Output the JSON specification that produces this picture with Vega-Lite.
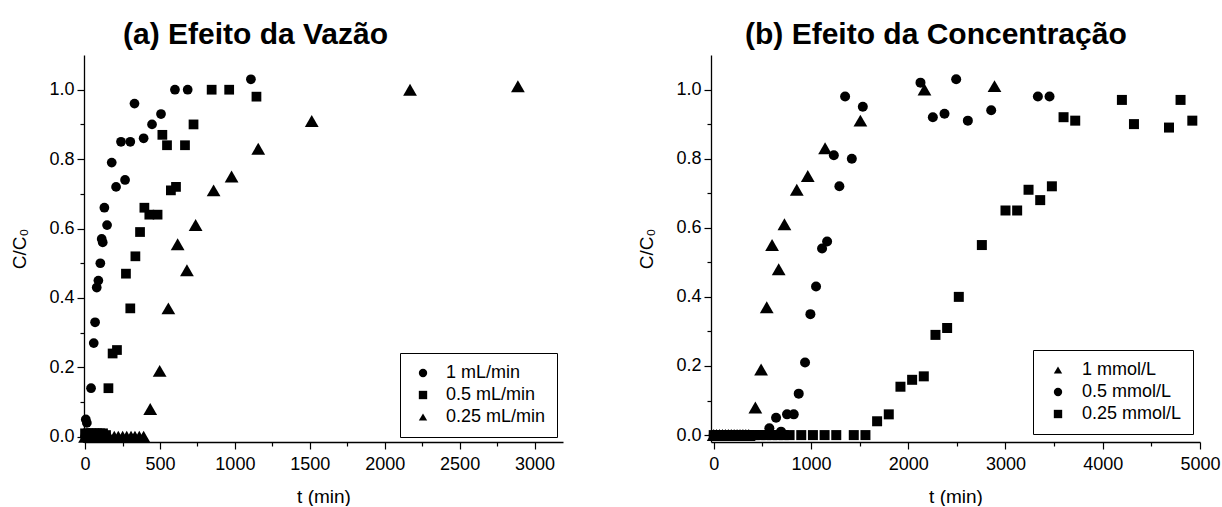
{
  "$schema": "https://vega.github.io/schema/vega-lite/v6.json",
  "padding": {"left": 10, "top": 20, "right": 0, "bottom": 0},
  "spacing": 74,
  "config": {
    "view": {"stroke": null},
    "font": "Liberation Sans",
    "axis": {
      "grid": false,
      "labelFlush": false,
      "domainColor": "black",
      "domainWidth": 1.3,
      "tickColor": "black",
      "tickWidth": 1.2,
      "labelColor": "black",
      "labelFont": "Liberation Sans",
      "labelFontSize": 18,
      "titleColor": "black",
      "titleFont": "Liberation Sans",
      "titleFontSize": 19,
      "titleFontWeight": "normal"
    },
    "title": {"font": "Liberation Sans", "fontSize": 30, "fontWeight": "bold", "color": "black", "anchor": "start", "frame": "group", "offset": 5}
  },
  "datasets": {
    "a": [
      {"series": "1 mL/min", "t": 0, "c": 0.0},
      {"series": "1 mL/min", "t": 5, "c": 0.05},
      {"series": "1 mL/min", "t": 12, "c": 0.04},
      {"series": "1 mL/min", "t": 20, "c": 0.01},
      {"series": "1 mL/min", "t": 40, "c": 0.14},
      {"series": "1 mL/min", "t": 58, "c": 0.27},
      {"series": "1 mL/min", "t": 67, "c": 0.33},
      {"series": "1 mL/min", "t": 78, "c": 0.43},
      {"series": "1 mL/min", "t": 89, "c": 0.45},
      {"series": "1 mL/min", "t": 102, "c": 0.5},
      {"series": "1 mL/min", "t": 111, "c": 0.57},
      {"series": "1 mL/min", "t": 118, "c": 0.56},
      {"series": "1 mL/min", "t": 129, "c": 0.66},
      {"series": "1 mL/min", "t": 147, "c": 0.61},
      {"series": "1 mL/min", "t": 178, "c": 0.79},
      {"series": "1 mL/min", "t": 207, "c": 0.72},
      {"series": "1 mL/min", "t": 240, "c": 0.85},
      {"series": "1 mL/min", "t": 267, "c": 0.74},
      {"series": "1 mL/min", "t": 302, "c": 0.85},
      {"series": "1 mL/min", "t": 330, "c": 0.96},
      {"series": "1 mL/min", "t": 391, "c": 0.86},
      {"series": "1 mL/min", "t": 447, "c": 0.9},
      {"series": "1 mL/min", "t": 507, "c": 0.93},
      {"series": "1 mL/min", "t": 600, "c": 1.0},
      {"series": "1 mL/min", "t": 685, "c": 1.0},
      {"series": "1 mL/min", "t": 1107, "c": 1.03},
      {"series": "0.5 mL/min", "t": 0, "c": 0.01},
      {"series": "0.5 mL/min", "t": 20, "c": 0.01},
      {"series": "0.5 mL/min", "t": 40, "c": 0.01},
      {"series": "0.5 mL/min", "t": 60, "c": 0.01},
      {"series": "0.5 mL/min", "t": 80, "c": 0.01},
      {"series": "0.5 mL/min", "t": 100, "c": 0.01},
      {"series": "0.5 mL/min", "t": 120, "c": 0.01},
      {"series": "0.5 mL/min", "t": 140, "c": 0.005},
      {"series": "0.5 mL/min", "t": 156, "c": 0.14},
      {"series": "0.5 mL/min", "t": 184, "c": 0.24},
      {"series": "0.5 mL/min", "t": 213, "c": 0.25},
      {"series": "0.5 mL/min", "t": 273, "c": 0.47},
      {"series": "0.5 mL/min", "t": 302, "c": 0.37},
      {"series": "0.5 mL/min", "t": 336, "c": 0.52},
      {"series": "0.5 mL/min", "t": 367, "c": 0.59},
      {"series": "0.5 mL/min", "t": 396, "c": 0.66},
      {"series": "0.5 mL/min", "t": 429, "c": 0.64},
      {"series": "0.5 mL/min", "t": 484, "c": 0.64},
      {"series": "0.5 mL/min", "t": 516, "c": 0.87},
      {"series": "0.5 mL/min", "t": 547, "c": 0.84},
      {"series": "0.5 mL/min", "t": 573, "c": 0.71},
      {"series": "0.5 mL/min", "t": 607, "c": 0.72},
      {"series": "0.5 mL/min", "t": 667, "c": 0.84},
      {"series": "0.5 mL/min", "t": 724, "c": 0.9},
      {"series": "0.5 mL/min", "t": 845, "c": 1.0},
      {"series": "0.5 mL/min", "t": 962, "c": 1.0},
      {"series": "0.5 mL/min", "t": 1144, "c": 0.98},
      {"series": "0.25 mL/min", "t": 0, "c": 0.0},
      {"series": "0.25 mL/min", "t": 30, "c": 0.0},
      {"series": "0.25 mL/min", "t": 60, "c": 0.0},
      {"series": "0.25 mL/min", "t": 90, "c": 0.0},
      {"series": "0.25 mL/min", "t": 120, "c": 0.0},
      {"series": "0.25 mL/min", "t": 162, "c": 0.0},
      {"series": "0.25 mL/min", "t": 195, "c": 0.0},
      {"series": "0.25 mL/min", "t": 222, "c": 0.0},
      {"series": "0.25 mL/min", "t": 251, "c": 0.0},
      {"series": "0.25 mL/min", "t": 278, "c": 0.0},
      {"series": "0.25 mL/min", "t": 307, "c": 0.0},
      {"series": "0.25 mL/min", "t": 333, "c": 0.0},
      {"series": "0.25 mL/min", "t": 362, "c": 0.0},
      {"series": "0.25 mL/min", "t": 391, "c": 0.0},
      {"series": "0.25 mL/min", "t": 435, "c": 0.08},
      {"series": "0.25 mL/min", "t": 498, "c": 0.19},
      {"series": "0.25 mL/min", "t": 556, "c": 0.37},
      {"series": "0.25 mL/min", "t": 618, "c": 0.555},
      {"series": "0.25 mL/min", "t": 680, "c": 0.48},
      {"series": "0.25 mL/min", "t": 738, "c": 0.61},
      {"series": "0.25 mL/min", "t": 858, "c": 0.71},
      {"series": "0.25 mL/min", "t": 978, "c": 0.75},
      {"series": "0.25 mL/min", "t": 1156, "c": 0.83},
      {"series": "0.25 mL/min", "t": 1513, "c": 0.91},
      {"series": "0.25 mL/min", "t": 2169, "c": 1.0},
      {"series": "0.25 mL/min", "t": 2889, "c": 1.01}
    ],
    "b": [
      {"series": "1 mmol/L", "t": 0, "c": 0.0},
      {"series": "1 mmol/L", "t": 30, "c": 0.0},
      {"series": "1 mmol/L", "t": 60, "c": 0.0},
      {"series": "1 mmol/L", "t": 90, "c": 0.0},
      {"series": "1 mmol/L", "t": 120, "c": 0.0},
      {"series": "1 mmol/L", "t": 150, "c": 0.0},
      {"series": "1 mmol/L", "t": 180, "c": 0.0},
      {"series": "1 mmol/L", "t": 210, "c": 0.0},
      {"series": "1 mmol/L", "t": 240, "c": 0.0},
      {"series": "1 mmol/L", "t": 270, "c": 0.0},
      {"series": "1 mmol/L", "t": 300, "c": 0.0},
      {"series": "1 mmol/L", "t": 330, "c": 0.0},
      {"series": "1 mmol/L", "t": 360, "c": 0.0},
      {"series": "1 mmol/L", "t": 428, "c": 0.08},
      {"series": "1 mmol/L", "t": 487, "c": 0.19},
      {"series": "1 mmol/L", "t": 545, "c": 0.37},
      {"series": "1 mmol/L", "t": 600, "c": 0.55},
      {"series": "1 mmol/L", "t": 668, "c": 0.48},
      {"series": "1 mmol/L", "t": 727, "c": 0.61},
      {"series": "1 mmol/L", "t": 854, "c": 0.71},
      {"series": "1 mmol/L", "t": 967, "c": 0.75},
      {"series": "1 mmol/L", "t": 1145, "c": 0.83},
      {"series": "1 mmol/L", "t": 1508, "c": 0.91},
      {"series": "1 mmol/L", "t": 2167, "c": 1.0},
      {"series": "1 mmol/L", "t": 2887, "c": 1.01},
      {"series": "0.5 mmol/L", "t": 0, "c": 0.0},
      {"series": "0.5 mmol/L", "t": 40, "c": 0.0},
      {"series": "0.5 mmol/L", "t": 80, "c": 0.0},
      {"series": "0.5 mmol/L", "t": 120, "c": 0.0},
      {"series": "0.5 mmol/L", "t": 160, "c": 0.0},
      {"series": "0.5 mmol/L", "t": 200, "c": 0.0},
      {"series": "0.5 mmol/L", "t": 240, "c": 0.0},
      {"series": "0.5 mmol/L", "t": 280, "c": 0.0},
      {"series": "0.5 mmol/L", "t": 320, "c": 0.0},
      {"series": "0.5 mmol/L", "t": 360, "c": 0.0},
      {"series": "0.5 mmol/L", "t": 400, "c": 0.0},
      {"series": "0.5 mmol/L", "t": 440, "c": 0.0},
      {"series": "0.5 mmol/L", "t": 480, "c": 0.0},
      {"series": "0.5 mmol/L", "t": 520, "c": 0.0},
      {"series": "0.5 mmol/L", "t": 572, "c": 0.02},
      {"series": "0.5 mmol/L", "t": 641, "c": 0.05},
      {"series": "0.5 mmol/L", "t": 692, "c": 0.01},
      {"series": "0.5 mmol/L", "t": 754, "c": 0.06},
      {"series": "0.5 mmol/L", "t": 823, "c": 0.06},
      {"series": "0.5 mmol/L", "t": 874, "c": 0.12},
      {"series": "0.5 mmol/L", "t": 939, "c": 0.21},
      {"series": "0.5 mmol/L", "t": 994, "c": 0.35},
      {"series": "0.5 mmol/L", "t": 1052, "c": 0.43},
      {"series": "0.5 mmol/L", "t": 1114, "c": 0.54},
      {"series": "0.5 mmol/L", "t": 1166, "c": 0.56},
      {"series": "0.5 mmol/L", "t": 1235, "c": 0.81},
      {"series": "0.5 mmol/L", "t": 1292, "c": 0.72},
      {"series": "0.5 mmol/L", "t": 1351, "c": 0.98},
      {"series": "0.5 mmol/L", "t": 1420, "c": 0.8},
      {"series": "0.5 mmol/L", "t": 1533, "c": 0.95},
      {"series": "0.5 mmol/L", "t": 2126, "c": 1.02},
      {"series": "0.5 mmol/L", "t": 2253, "c": 0.92},
      {"series": "0.5 mmol/L", "t": 2373, "c": 0.93},
      {"series": "0.5 mmol/L", "t": 2493, "c": 1.03},
      {"series": "0.5 mmol/L", "t": 2613, "c": 0.91},
      {"series": "0.5 mmol/L", "t": 2853, "c": 0.94},
      {"series": "0.5 mmol/L", "t": 3333, "c": 0.98},
      {"series": "0.5 mmol/L", "t": 3453, "c": 0.98},
      {"series": "0.25 mmol/L", "t": 0, "c": 0.0},
      {"series": "0.25 mmol/L", "t": 60, "c": 0.0},
      {"series": "0.25 mmol/L", "t": 120, "c": 0.0},
      {"series": "0.25 mmol/L", "t": 180, "c": 0.0},
      {"series": "0.25 mmol/L", "t": 240, "c": 0.0},
      {"series": "0.25 mmol/L", "t": 300, "c": 0.0},
      {"series": "0.25 mmol/L", "t": 360, "c": 0.0},
      {"series": "0.25 mmol/L", "t": 420, "c": 0.0},
      {"series": "0.25 mmol/L", "t": 480, "c": 0.0},
      {"series": "0.25 mmol/L", "t": 540, "c": 0.0},
      {"series": "0.25 mmol/L", "t": 600, "c": 0.0},
      {"series": "0.25 mmol/L", "t": 660, "c": 0.0},
      {"series": "0.25 mmol/L", "t": 720, "c": 0.0},
      {"series": "0.25 mmol/L", "t": 780, "c": 0.0},
      {"series": "0.25 mmol/L", "t": 900, "c": 0.0},
      {"series": "0.25 mmol/L", "t": 1020, "c": 0.0},
      {"series": "0.25 mmol/L", "t": 1140, "c": 0.0},
      {"series": "0.25 mmol/L", "t": 1260, "c": 0.0},
      {"series": "0.25 mmol/L", "t": 1440, "c": 0.0},
      {"series": "0.25 mmol/L", "t": 1560, "c": 0.0},
      {"series": "0.25 mmol/L", "t": 1680, "c": 0.04},
      {"series": "0.25 mmol/L", "t": 1800, "c": 0.06},
      {"series": "0.25 mmol/L", "t": 1920, "c": 0.14},
      {"series": "0.25 mmol/L", "t": 2040, "c": 0.16},
      {"series": "0.25 mmol/L", "t": 2160, "c": 0.17},
      {"series": "0.25 mmol/L", "t": 2280, "c": 0.29},
      {"series": "0.25 mmol/L", "t": 2400, "c": 0.31},
      {"series": "0.25 mmol/L", "t": 2520, "c": 0.4},
      {"series": "0.25 mmol/L", "t": 2757, "c": 0.55},
      {"series": "0.25 mmol/L", "t": 3000, "c": 0.65},
      {"series": "0.25 mmol/L", "t": 3120, "c": 0.65},
      {"series": "0.25 mmol/L", "t": 3237, "c": 0.71},
      {"series": "0.25 mmol/L", "t": 3357, "c": 0.68},
      {"series": "0.25 mmol/L", "t": 3477, "c": 0.72},
      {"series": "0.25 mmol/L", "t": 3597, "c": 0.92},
      {"series": "0.25 mmol/L", "t": 3717, "c": 0.91},
      {"series": "0.25 mmol/L", "t": 4197, "c": 0.97},
      {"series": "0.25 mmol/L", "t": 4321, "c": 0.9},
      {"series": "0.25 mmol/L", "t": 4681, "c": 0.89},
      {"series": "0.25 mmol/L", "t": 4800, "c": 0.97},
      {"series": "0.25 mmol/L", "t": 4921, "c": 0.91}
    ]
  },
  "resolve": {"scale": {"shape": "independent"}, "legend": {"shape": "independent"}},
  "hconcat": [
    {
      "width": 479,
      "height": 387,
      "title": {"text": "(a) Efeito da Vazão", "dx": 39},
      "data": {"name": "a"},
      "mark": {"type": "point", "filled": true, "opacity": 1, "color": "black"},
      "encoding": {
        "x": {
          "field": "t", "type": "quantitative",
          "scale": {"domain": [-7, 3190], "nice": false, "zero": false},
          "axis": {
            "title": "t (min)",
            "format": "d",
            "values": [0, 250, 500, 750, 1000, 1250, 1500, 1750, 2000, 2250, 2500, 2750, 3000],
            "labelExpr": "datum.value % 500 == 0 ? datum.label : ''",
            "tickSize": {"condition": {"test": "datum.value % 500 == 0", "value": 7}, "value": 4},
            "labelPadding": 6,
            "titlePadding": 14
          }
        },
        "y": {
          "field": "c", "type": "quantitative",
          "scale": {"domain": [-0.015, 1.1], "nice": false, "zero": false},
          "axis": {
            "title": "C/C₀",
            "values": [0, 0.1, 0.2, 0.3, 0.4, 0.5, 0.6, 0.7, 0.8, 0.9, 1.0],
            "labelExpr": "round(datum.value*10) % 2 == 0 ? format(datum.value, '.1f') : ''",
            "tickSize": {"condition": {"test": "round(datum.value*10) % 2 == 0", "value": 7}, "value": 4},
            "labelPadding": 3,
            "titlePadding": 19
          }
        },
        "shape": {
          "field": "series", "type": "nominal",
          "scale": {"domain": ["1 mL/min", "0.5 mL/min", "0.25 mL/min"], "range": ["circle", "square", "triangle-up"]},
          "legend": {
            "orient": "none", "legendX": 316, "legendY": 298, "title": null,
            "strokeColor": "black", "fillColor": "white", "padding": 11, "rowPadding": 4,
            "labelFont": "Liberation Sans", "labelFontSize": 18, "labelColor": "black",
            "symbolOffset": 3, "labelOffset": 14, "symbolSize": 70,
            "symbolFillColor": "black", "symbolStrokeColor": "black",
            "encode": {"symbols": {"update": {"size": {"signal": "datum.value == '0.25 mL/min' ? 150 : 72"}}}}
          }
        },
        "size": {"condition": {"test": "datum.series == '0.25 mL/min'", "value": 190}, "value": 95}
      }
    },
    {
      "width": 489,
      "height": 387,
      "title": {"text": "(b) Efeito da Concentração", "dx": 34},
      "data": {"name": "b"},
      "mark": {"type": "point", "filled": true, "opacity": 1, "color": "black"},
      "encoding": {
        "x": {
          "field": "t", "type": "quantitative",
          "scale": {"domain": [-28, 5000], "nice": false, "zero": false},
          "axis": {
            "title": "t (min)",
            "format": "d",
            "values": [0, 500, 1000, 1500, 2000, 2500, 3000, 3500, 4000, 4500, 5000],
            "labelExpr": "datum.value % 1000 == 0 ? datum.label : ''",
            "tickSize": {"condition": {"test": "datum.value % 1000 == 0", "value": 7}, "value": 4},
            "labelPadding": 6,
            "titlePadding": 14
          }
        },
        "y": {
          "field": "c", "type": "quantitative",
          "scale": {"domain": [-0.02, 1.1], "nice": false, "zero": false},
          "axis": {
            "title": "C/C₀",
            "values": [0, 0.1, 0.2, 0.3, 0.4, 0.5, 0.6, 0.7, 0.8, 0.9, 1.0],
            "labelExpr": "round(datum.value*10) % 2 == 0 ? format(datum.value, '.1f') : ''",
            "tickSize": {"condition": {"test": "round(datum.value*10) % 2 == 0", "value": 7}, "value": 4},
            "labelPadding": 3,
            "titlePadding": 19
          }
        },
        "shape": {
          "field": "series", "type": "nominal",
          "scale": {"domain": ["1 mmol/L", "0.5 mmol/L", "0.25 mmol/L"], "range": ["triangle-up", "circle", "square"]},
          "legend": {
            "orient": "none", "legendX": 322, "legendY": 295, "title": null,
            "strokeColor": "black", "fillColor": "white", "padding": 11, "rowPadding": 4,
            "labelFont": "Liberation Sans", "labelFontSize": 18, "labelColor": "black",
            "symbolOffset": 5, "labelOffset": 15, "symbolSize": 70,
            "symbolFillColor": "black", "symbolStrokeColor": "black",
            "encode": {"symbols": {"update": {"size": {"signal": "datum.value == '1 mmol/L' ? 150 : 72"}}}}
          }
        },
        "size": {"condition": {"test": "datum.series == '1 mmol/L'", "value": 190}, "value": 100}
      }
    }
  ]
}
